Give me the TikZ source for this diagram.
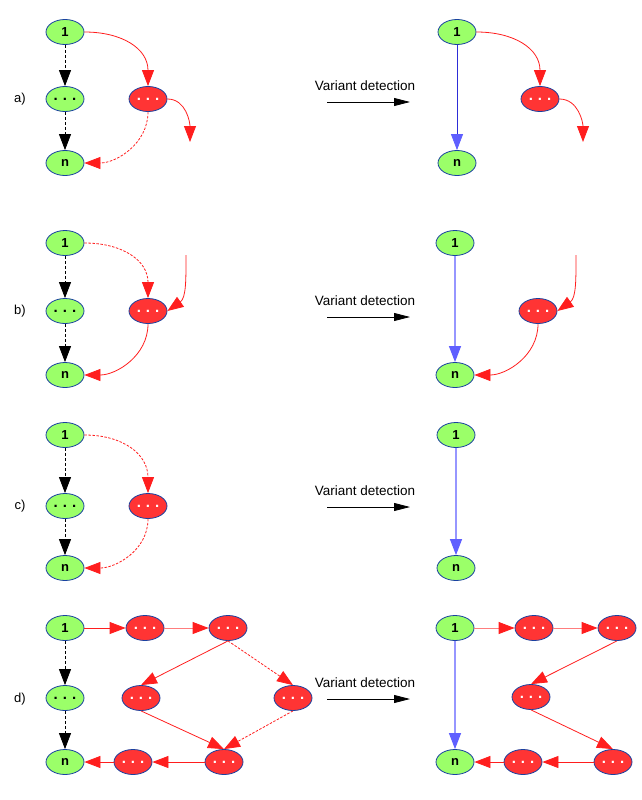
\documentclass[tikz,border=0pt]{standalone}
\usepackage{fontspec}
\setmainfont{Liberation Sans}
\usetikzlibrary{arrows.meta,shapes.geometric}

\definecolor{nodegreen}{RGB}{155,255,105}
\definecolor{nodered}{RGB}{255,52,52}
\definecolor{rim}{RGB}{25,65,160}
\definecolor{edgered}{RGB}{255,30,30}
\definecolor{paleedgered}{RGB}{255,125,125}
\definecolor{edgeblue}{RGB}{45,45,215}
\definecolor{paleblue}{RGB}{150,150,255}
\definecolor{headblue}{RGB}{95,95,255}

\tikzset{
  x=1pt, y=1pt,
  vertex/.style={ellipse, draw=rim, line width=0.8pt, minimum width=38pt,
    minimum height=25pt, inner sep=0pt, font=\bfseries\fontsize{13}{13}\selectfont},
  okvtx/.style={vertex, fill=nodegreen, text=black},
  badvtx/.style={vertex, fill=nodered, text=white},
  caselabel/.style={font=\fontsize{13}{13}\selectfont},
  steplabel/.style={font=\fontsize{13.5}{13.5}\selectfont},
  blackdash/.style={draw=black, line width=0.8pt, dash pattern=on 3pt off 2pt,
    -{Triangle[length=16pt,width=12pt]}},
  redsolid/.style={draw=edgered, line width=0.8pt,
    -{Triangle[length=16pt,width=12pt,color=edgered]}},
  redpale/.style={redsolid, draw=paleedgered},
  reddash/.style={redsolid, dash pattern=on 2.5pt off 1.5pt},
  bluedark/.style={draw=edgeblue, line width=0.8pt,
    -{Triangle[length=16pt,width=12pt,color=headblue]}},
  bluepale/.style={bluedark, draw=paleblue, line width=1.2pt},
  stepline/.style={draw=black, line width=0.8pt, -{Triangle[length=16pt,width=8pt]}},
}

% three bold dots inside the ellipses
\newcommand{\dotsfill}{{\fontsize{15}{15}\selectfont.\,\,.\,\,.}}

\begin{document}
\begin{tikzpicture}
\useasboundingbox (0,0) rectangle (642,-800);

% ---------------- case a) ----------------
\node[caselabel] (la) at (20,-99) {a)};
\node[okvtx] (a1) at (65,-32) {1};
\node[okvtx] (am) at (65,-99) {\dotsfill};
\node[okvtx] (an) at (65,-163) {n};
\node[badvtx] (ar) at (148,-99) {\dotsfill};
\coordinate (ae) at (190,-142);
\draw[blackdash] (a1.south) -- (am.north);
\draw[blackdash] (am.south) -- (an.north);
\draw[redsolid] (a1.east) to[out=0,in=90,looseness=1.15] (ar.north);
\draw[redsolid] (ar.east) to[out=0,in=90] (ae);
\draw[reddash] (ar.south) to[out=-90,in=0] (an.east);

\node[steplabel] (ta) at (365,-86) {Variant detection};
\coordinate (sa1) at (327,-102);
\coordinate (sa2) at (410,-102);
\draw[stepline] (sa1) -- (sa2);

\node[okvtx] (A1) at (457,-32) {1};
\node[okvtx] (An) at (457,-163) {n};
\node[badvtx] (Ar) at (540,-99) {\dotsfill};
\coordinate (Ae) at (583,-142);
\draw[bluedark] (A1.south) -- (An.north);
\draw[redsolid] (A1.east) to[out=0,in=90,looseness=1.15] (Ar.north);
\draw[redsolid] (Ar.east) to[out=0,in=90] (Ae);

% ---------------- case b) ----------------
\node[caselabel] (lb) at (20,-311) {b)};
\node[okvtx] (b1) at (65,-243) {1};
\node[okvtx] (bm) at (65,-311) {\dotsfill};
\node[okvtx] (bn) at (65,-375) {n};
\node[badvtx] (br) at (148,-311) {\dotsfill};
\coordinate (bs) at (186,-255);
\draw[blackdash] (b1.south) -- (bm.north);
\draw[blackdash] (bm.south) -- (bn.north);
\draw[reddash] (b1.east) to[out=0,in=90,looseness=1.15] (br.north);
\draw[redsolid] (bs) to[out=-90,in=35] (br.east);
\draw[redsolid] (br.south) to[out=-90,in=0] (bn.east);

\node[steplabel] (tb) at (365,-301) {Variant detection};
\coordinate (sb1) at (327,-317);
\coordinate (sb2) at (410,-317);
\draw[stepline] (sb1) -- (sb2);

\node[okvtx] (B1) at (455,-243) {1};
\node[okvtx] (Bn) at (455,-375) {n};
\node[badvtx] (Br) at (538,-311) {\dotsfill};
\coordinate (Bs) at (576,-255);
\draw[bluepale] (B1.south) -- (Bn.north);
\draw[redsolid] (Bs) to[out=-90,in=35] (Br.east);
\draw[redsolid] (Br.south) to[out=-90,in=0] (Bn.east);

% ---------------- case c) ----------------
\node[caselabel] (lc) at (20,-506) {c)};
\node[okvtx] (c1) at (65,-435) {1};
\node[okvtx] (cm) at (65,-506) {\dotsfill};
\node[okvtx] (cn) at (65,-568) {n};
\node[badvtx] (cr) at (148,-506) {\dotsfill};
\draw[blackdash] (c1.south) -- (cm.north);
\draw[blackdash] (cm.south) -- (cn.north);
\draw[reddash] (c1.east) to[out=0,in=90,looseness=1.15] (cr.north);
\draw[reddash] (cr.south) to[out=-90,in=0] (cn.east);

\node[steplabel] (tc) at (365,-491) {Variant detection};
\coordinate (sc1) at (327,-507);
\coordinate (sc2) at (410,-507);
\draw[stepline] (sc1) -- (sc2);

\node[okvtx] (C1) at (456,-435) {1};
\node[okvtx] (Cn) at (456,-568) {n};
\draw[bluepale] (C1.south) -- (Cn.north);

% ---------------- case d) ----------------
\node[caselabel] (ld) at (20,-699) {d)};
\node[okvtx] (d1) at (65,-628) {1};
\node[okvtx] (dm) at (65,-698) {\dotsfill};
\node[okvtx] (dn) at (65,-762) {n};
\node[badvtx] (r1) at (145,-628) {\dotsfill};
\node[badvtx] (r2) at (228,-628) {\dotsfill};
\node[badvtx] (r3) at (141,-698) {\dotsfill};
\node[badvtx] (r4) at (293,-698) {\dotsfill};
\node[badvtx] (r5) at (224,-762) {\dotsfill};
\node[badvtx] (r6) at (133,-762) {\dotsfill};
\draw[blackdash] (d1.south) -- (dm.north);
\draw[blackdash] (dm.south) -- (dn.north);
\draw[redsolid] (d1.east) -- (r1.west);
\draw[redpale] (r1.east) -- (r2.west);
\draw[redsolid] (r2.south) -- (r3.north);
\draw[reddash] (r2.south) -- (r4.north);
\draw[redsolid] (r3.south) -- (r5.north);
\draw[reddash] (r4.south) -- (r5.north);
\draw[redsolid] (r5.west) -- (r6.east);
\draw[redsolid] (r6.west) -- (dn.east);

\node[steplabel] (td) at (365,-683) {Variant detection};
\coordinate (sd1) at (327,-699);
\coordinate (sd2) at (410,-699);
\draw[stepline] (sd1) -- (sd2);

\node[okvtx] (D1) at (455,-628) {1};
\node[okvtx] (Dn) at (455,-762) {n};
\node[badvtx] (R1) at (534,-628) {\dotsfill};
\node[badvtx] (R2) at (617,-628) {\dotsfill};
\node[badvtx] (R3) at (531,-697) {\dotsfill};
\node[badvtx] (R5) at (613,-762) {\dotsfill};
\node[badvtx] (R6) at (523,-762) {\dotsfill};
\draw[bluepale] (D1.south) -- (Dn.north);
\draw[redpale] (D1.east) -- (R1.west);
\draw[redpale] (R1.east) -- (R2.west);
\draw[redsolid] (R2.south) -- (R3.north);
\draw[redsolid] (R3.south) -- (R5.north);
\draw[redsolid] (R5.west) -- (R6.east);
\draw[redsolid] (R6.west) -- (Dn.east);
\end{tikzpicture}
\end{document}
